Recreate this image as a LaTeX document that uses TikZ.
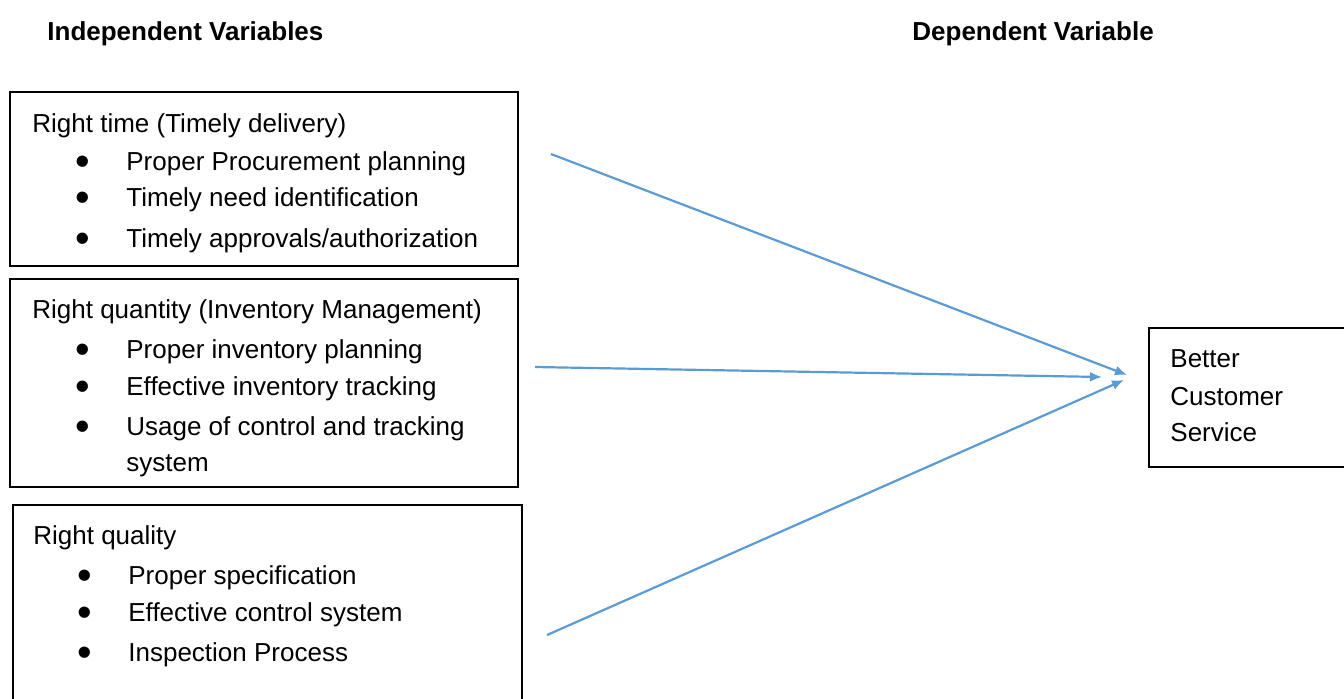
\documentclass[tikz,border=0pt]{standalone}
\usepackage{fontspec}
\setmainfont{Liberation Sans}
\usepackage{graphicx}
\usetikzlibrary{positioning,arrows.meta}

\definecolor{linkblue}{HTML}{5B9BD5}
\newcommand{\blt}{\raisebox{-0.2em}{\scalebox{1.6}{\textbullet}}}

\begin{document}
\begin{tikzpicture}[
  x=0.5pt, y=-0.5pt,
  font=\fontsize{13pt}{15pt}\selectfont,
  box/.style={draw, line width=0.8pt, anchor=north west, inner sep=0pt},
  head/.style={anchor=base west, inner sep=0pt, font=\fontsize{13pt}{15pt}\selectfont\bfseries},
  txt/.style={anchor=base west, inner sep=0pt},
  item/.style={txt, execute at begin node={\llap{\blt\hspace{18pt}}}},
  arr/.style={-{Latex[length=6pt,width=5pt]}, linkblue, line width=1.1pt}]
\useasboundingbox (0,0) rectangle (1344,698);

% column headings
\node[head] (indep) at (47,40)  {Independent Variables};
\node[head] (dep)   at (912,40) {Dependent Variable};

% independent variables
\node[box, minimum width=254pt, minimum height=87pt]  (time) at (9,91)   {};
\node[box, minimum width=254pt, minimum height=104pt] (qty)  at (9,278)  {};
\node[box, minimum width=254.5pt, minimum height=113pt] (qual) at (12,504) {};

\node[txt]  (time0) at (32,132)  {Right time (Timely delivery)};
\node[item] (time1) at (126,170) {Proper Procurement planning};
\node[item] (time2) at (126,206) {Timely need identification};
\node[item] (time3) at (126,247) {Timely approvals/authorization};

\node[txt]  (qty0) at (32,318)  {Right quantity (Inventory Management)};
\node[item] (qty1) at (126,358) {Proper inventory planning};
\node[item] (qty2) at (126,395) {Effective inventory tracking};
\node[item] (qty3) at (126,435) {Usage of control and tracking};
\node[txt]  (qty4) at (126,471) {system};

\node[txt]  (qual0) at (33,544)  {Right quality};
\node[item] (qual1) at (128,584) {Proper specification};
\node[item] (qual2) at (128,621) {Effective control system};
\node[item] (qual3) at (128,661) {Inspection Process};

% dependent variable
\node[box, minimum width=116pt, minimum height=69.5pt] (serv) at (1148,327) {};
\node[txt] (serv1) at (1170,367) {Better};
\node[txt] (serv2) at (1170,405) {Customer};
\node[txt] (serv3) at (1170,441) {Service};

% links
\coordinate (from1) at (551,154);
\coordinate (from2) at (535,367);
\coordinate (from3) at (547,635);
\coordinate (to1) at (1127,375);
\coordinate (to2) at (1102,377);
\coordinate (to3) at (1124,380);
\draw[arr] (from1) -- (to1);
\draw[arr] (from2) -- (to2);
\draw[arr] (from3) -- (to3);
\end{tikzpicture}
\end{document}
